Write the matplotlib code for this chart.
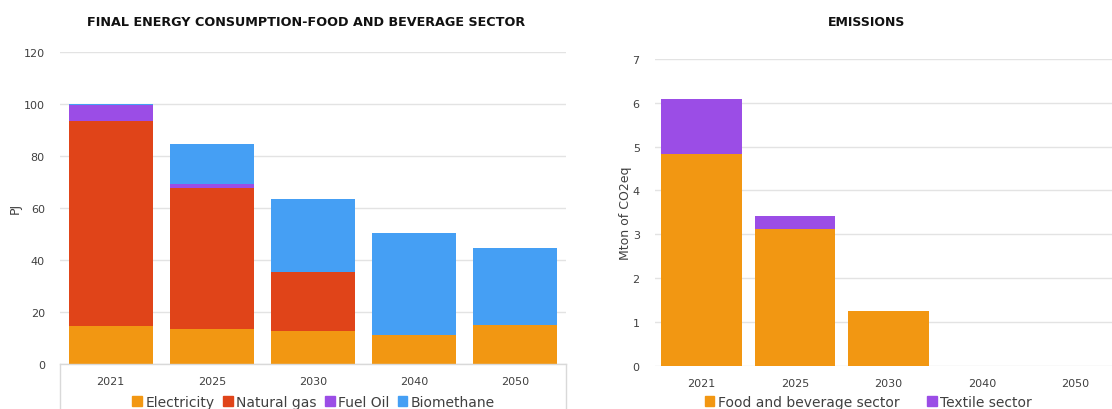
import numpy as np
import matplotlib
matplotlib.use("Agg")
import matplotlib.pyplot as plt
from matplotlib.patches import Patch

plt.rcParams['font.family'] = ['DejaVu Sans']

years = ['2021', '2025', '2030', '2040', '2050']

# final energy consumption, food and beverage sector (PJ)
electricity = [14.5, 13.5, 12.7, 11.3, 15.0]
natural_gas = [78.9, 54.1, 22.8, 0.0, 0.0]
fuel_oil = [6.1, 1.4, 0.0, 0.0, 0.0]
biomethane = [0.5, 15.4, 27.7, 39.0, 29.4]

# emissions (Mton of CO2eq)
food_beverage = [4.83, 3.12, 1.25, 0.0, 0.0]
textile = [1.25, 0.29, 0.0, 0.0, 0.0]

ORANGE = '#F29712'
RED = '#E04419'
PURPLE = '#9B4DE6'
BLUE = '#459FF4'
GRID = '#E3E3E3'
TXT = '#404040'

fig = plt.figure(figsize=(11.12, 4.10), dpi=100)
ax1 = fig.add_axes([0.054, 0.1098, 0.455, 0.762])
ax2 = fig.add_axes([0.589, 0.1056, 0.42, 0.748])

x = np.arange(len(years))

# left: stacked energy mix
bottom = np.zeros(len(years))
for vals, col in [(electricity, ORANGE), (natural_gas, RED),
                  (fuel_oil, PURPLE), (biomethane, BLUE)]:
    ax1.bar(x, vals, 0.83, bottom=bottom, color=col, zorder=3)
    bottom += np.array(vals)

ax1.set_ylim(0, 120)
ax1.set_yticks(range(0, 121, 20))
ax1.set_xlim(-0.5, 4.5)
ax1.set_ylabel('PJ', fontsize=9, color=TXT)
ax1.yaxis.set_label_coords(-0.075, 0.5)

# right: stacked emissions
bottom = np.zeros(len(years))
for vals, col in [(food_beverage, ORANGE), (textile, PURPLE)]:
    ax2.bar(x, vals, 0.865, bottom=bottom, color=col, zorder=3)
    bottom += np.array(vals)

ax2.set_ylim(0, 7)
ax2.set_yticks(range(0, 8))
ax2.set_xlim(-0.5, 4.5)
ax2.set_ylabel('Mton of CO2eq', fontsize=9, color=TXT)
ax2.yaxis.set_label_coords(-0.05, 0.5)

for ax in (ax1, ax2):
    ax.set_xticks(x)
    ax.set_xticklabels(years)
    ax.tick_params(length=0, labelsize=8, colors=TXT)
    ax.tick_params(axis='y', pad=11)
    ax.tick_params(axis='x', pad=9)
    ax.grid(axis='y', color=GRID, linewidth=1, zorder=0)
    for s in ax.spines.values():
        s.set_visible(False)

# category box under the left chart
for xs, ys in [([0, 0], [0, -0.2]), ([1, 1], [0, -0.2]), ([0, 1], [0, 0])]:
    ax1.plot(xs, ys, color='#D9D9D9', linewidth=1, transform=ax1.transAxes,
             clip_on=False, zorder=4)

fig.text(0.275, 0.945, 'FINAL ENERGY CONSUMPTION-FOOD AND BEVERAGE SECTOR',
         ha='center', va='center', fontsize=9.2, fontweight='bold', color='#111111')
fig.text(0.779, 0.945, 'EMISSIONS', ha='center', va='center',
         fontsize=9, fontweight='bold', color='#111111')

leg_kw = dict(loc='center', ncol=4, frameon=False, fontsize=10,
              handlelength=0.7, handleheight=0.7, handletextpad=0.25,
              columnspacing=0.6, labelcolor=TXT)
fig.legend([Patch(color=c) for c in (ORANGE, RED, PURPLE, BLUE)],
           ['Electricity', 'Natural gas', 'Fuel Oil', 'Biomethane'],
           bbox_to_anchor=(0.282, 0.018), **leg_kw)
leg_kw['ncol'] = 2
leg_kw['columnspacing'] = 2.0
fig.legend([Patch(color=c) for c in (ORANGE, PURPLE)],
           ['Food and beverage sector', 'Textile sector'],
           bbox_to_anchor=(0.781, 0.018), **leg_kw)

fig.savefig('out.png', dpi=100)
